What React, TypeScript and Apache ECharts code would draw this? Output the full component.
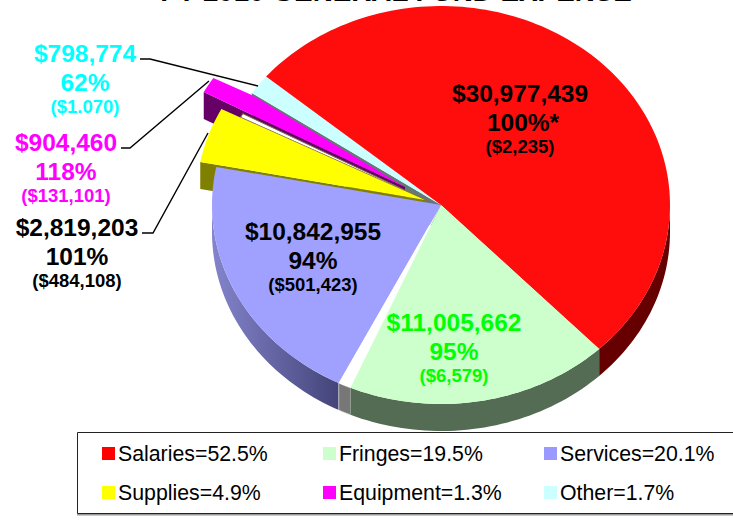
import React, { useEffect, useRef } from "react";
import * as echarts from "echarts";

// Data
const sliceNames = ["Other", "Equipment", "Sliver", "Supplies", "Salaries", "Services", "Gap", "Fringes"];
const legendNames = ["Salaries=52.5%", "Fringes=19.5%", "Services=20.1%", "Supplies=4.9%", "Equipment=1.3%", "Other=1.7%"];
// Shares as drawn, clockwise starting at the Salaries slice
const angleOrder = ["Salaries", "Fringes", "Gap", "Services", "Supplies", "Sliver", "Equipment", "Spacer", "Other"];
const angleShares = [51.7, 18.6, 0.9, 20.7, 4.5, 0.35, 1.3, 0.3, 1.65];

const salariesText = ["$30,977,439", "100%*", "($2,235)"];
const fringesText = ["$11,005,662", "95%", "($6,579)"];
const servicesText = ["$10,842,955", "94%", "($501,423)"];
const suppliesText = ["$2,819,203", "101%", "($484,108)"];
const equipmentText = ["$904,460", "118%", "($131,101)"];
const otherText = ["$798,774", "62%", "($1.070)"];
const titleText = "FY 2010 GENERAL FUND EXPENSE";

// Layout and styling
const labels = [
  { x: 520, y: 93, color: "#000", lines: salariesText },
  { x: 454, y: 322, color: "#00ff00", lines: fringesText },
  { x: 313, y: 231, color: "#000", lines: servicesText },
  { x: 77, y: 227, color: "#000", lines: suppliesText },
  { x: 66, y: 142, color: "#ff00ff", lines: equipmentText },
  { x: 85, y: 53, color: "#00ffff", lines: otherText },
];
const leaders = [
  [[142, 233], [153, 233], [208, 133]],
  [[121, 148], [130, 148], [209, 81]],
  [[140, 59], [150, 59], [258, 86]],
];
const topColor: any = { Salaries: "#ff0d0d", Fringes: "#ccffcc", Gap: "#ffffff", Services: "#a0a0ff", Supplies: "#ffff00", Sliver: "#ffffff", Equipment: "#ff00ff", Other: "#ccffff" };
const wallColor: any = { Salaries: "#660000", Fringes: "#546b54", Gap: "#777777", Services: "#6060a8", Supplies: "#808000", Sliver: "#777755", Equipment: "#660066", Other: "#667777" };
const legendColor: any = { "Salaries=52.5%": "#ff0000", "Fringes=19.5%": "#ccffcc", "Services=20.1%": "#9999ff", "Supplies=4.9%": "#ffff00", "Equipment=1.3%": "#ff00ff", "Other=1.7%": "#ccffff" };
const nameFor: any = { Salaries: legendNames[0], Fringes: legendNames[1], Services: legendNames[2], Supplies: legendNames[3], Equipment: legendNames[4], Other: legendNames[5] };
const offsets: any = { Supplies: [-16, -5], Sliver: [-11, -3], Equipment: [-36, -18] };
const radiusScale: any = { Sliver: 0.93 };
const radialFaces = ["Other", "Equipment", "Supplies"];

const CX = 441, CY = 205, RX = 229, RY = 199, DEPTH = 27, START = -49.8;
const total = angleShares.reduce((a, b) => a + b, 0);

function angleRange(name: string) {
  let acc = START;
  for (let i = 0; i < angleOrder.length; i++) {
    const span = (angleShares[i] / total) * 360;
    if (angleOrder[i] === name) return [acc, acc + span];
    acc += span;
  }
  return [0, 0];
}

function renderSlice(name: string) {
  return () => {
    const [a0, a1] = angleRange(name);
    const [ox, oy] = offsets[name] || [0, 0];
    const k = radiusScale[name] || 1;
    const cx = CX + ox, cy = CY + oy;
    const pt = (deg: number, dz = 0) => {
      const r = (deg * Math.PI) / 180;
      return [cx + k * RX * Math.sin(r), cy - k * RY * Math.cos(r) + dz];
    };
    const sweep = (s: number, e: number, dz = 0) => {
      const n = Math.max(2, Math.ceil((e - s) / 1.5));
      const pts: number[][] = [];
      for (let i = 0; i <= n; i++) pts.push(pt(s + ((e - s) * i) / n, dz));
      return pts;
    };
    const children: any[] = [];
    const wall = wallColor[name];
    if (radialFaces.includes(name)) {
      children.push({
        type: "polygon",
        shape: { points: [[cx, cy], pt(a0), pt(a0, DEPTH), [cx, cy + DEPTH]] },
        style: { fill: wall },
      });
    }
    const lo = Math.max(a0, 90), hi = Math.min(a1, 270);
    if (hi > lo) {
      const fill: any = name === "Services"
        ? new echarts.graphic.LinearGradient(0, 0, 1, 0, [
            { offset: 0, color: "#8484cc" },
            { offset: 1, color: "#44447a" },
          ])
        : wall;
      children.push({
        type: "polygon",
        shape: { points: [...sweep(lo, hi), ...sweep(lo, hi, DEPTH).reverse()] },
        style: name === "Gap" ? { fill, stroke: "#d0d8d0", lineWidth: 0.7 } : { fill },
      });
    }
    const top: number[][] = [[cx, cy], ...sweep(a0, a1)];
    if (name === "Equipment") {
      // the slice's far edge tucks in along the neighbouring Other slice
      const r = (angleRange("Other")[0] * Math.PI) / 180;
      top.push([CX + RX * Math.sin(r), CY - RY * Math.cos(r) + 2]);
    }
    children.push({
      type: "polygon",
      shape: { points: top },
      style: { fill: topColor[name], stroke: name === "Sliver" ? "#807040" : "none", lineWidth: 1 },
    });
    return { type: "group", children };
  };
}

function labelGraphics() {
  const out: any[] = [];
  labels.forEach((l) => {
    const fonts = [24.5, 24.5, 18.5];
    const ys = [0, 29, 53.5];
    l.lines.forEach((t, i) => {
      out.push({
        type: "text", x: l.x + (t.endsWith("*") ? 3 : 0), y: l.y + ys[i], z: 10,
        style: { text: t, fill: l.color, font: `bold ${fonts[i]}px "Liberation Sans"`, textAlign: "center", textVerticalAlign: "middle" },
      });
    });
  });
  leaders.forEach((pts) => {
    out.push({ type: "polyline", z: 9, shape: { points: pts }, style: { stroke: "#000", lineWidth: 1.4, fill: "none" } });
  });
  out.push({ type: "text", x: 396, y: 5, z: 10, style: { text: titleText, fill: "#000", font: 'bold 27.8px "Liberation Sans"', textAlign: "center", textVerticalAlign: "bottom" } });
  out.push({ type: "rect", z: 0, shape: { x: 77.5, y: 432.5, width: 680, height: 81 }, style: { fill: "#fff", stroke: "#222", lineWidth: 1, shadowColor: "#999", shadowOffsetY: 1.5 } });
  return out;
}

function legendBlock(left: number, data: string[]) {
  return {
    left, top: 438, orient: "vertical", itemWidth: 13, itemHeight: 13, itemGap: 18, icon: "rect", selectedMode: false, z: 5,
    textStyle: { fontFamily: "Liberation Sans", fontSize: 21.3, color: "#000", padding: [0, 0, 0, -2] },
    data,
  };
}

export default function App() {
  const ref = useRef<HTMLDivElement>(null);
  useEffect(() => {
    const chart = echarts.init(ref.current!, undefined, { renderer: "svg" });
    chart.setOption({
      animation: false,
      graphic: { elements: labelGraphics() },
      legend: [
        legendBlock(97, [legendNames[0], legendNames[3]]),
        legendBlock(318, [legendNames[1], legendNames[4]]),
        legendBlock(539, [legendNames[2], legendNames[5]]),
      ],
      series: sliceNames.map((n, i) => ({
        type: "custom",
        name: nameFor[n] || n,
        coordinateSystem: "none",
        z: 2 + i,
        itemStyle: { color: legendColor[nameFor[n]] || topColor[n] },
        silent: true,
        data: [[angleShares[angleOrder.indexOf(n)]]],
        renderItem: renderSlice(n),
      })),
    });
    return () => chart.dispose();
  }, []);
  return <div ref={ref} style={{ position: "absolute", left: 0, top: 0, width: 733, height: 522 }} />;
}
